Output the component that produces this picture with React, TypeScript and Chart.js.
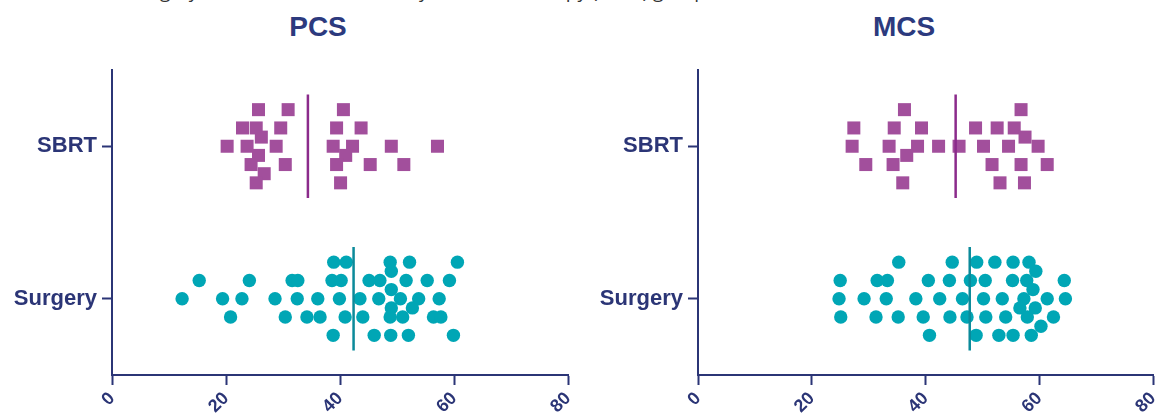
import React, { useEffect, useRef } from "react";
import { Chart, registerables } from "chart.js";

Chart.register(...registerables);

// ---------- data ----------
const categories = ["SBRT", "Surgery"];
const xTickValues = [0, 20, 40, 60, 80];
const panelTitles = ["PCS", "MCS"];
const captionText =
  "Comparison between the surgery and the stereotactic body radiation therapy (SBRT) groups.";

// PCS – SBRT
const pcsSbrtValues = [
  25.7, 30.9, 40.6,
  22.9, 25.3, 29.6, 39.4, 43.7,
  26.2,
  20.2, 23.7, 28.8, 38.8, 42.2, 49.0, 57.1,
  25.7, 41.0,
  24.4, 30.4, 39.4, 45.3, 51.2,
  26.7,
  25.3, 40.1,
];
const pcsSbrtJitter = [
  -0.24, -0.24, -0.24,
  -0.12, -0.12, -0.12, -0.12, -0.12,
  -0.06,
  0, 0, 0, 0, 0, 0, 0,
  0.06, 0.06,
  0.12, 0.12, 0.12, 0.12, 0.12,
  0.18,
  0.24, 0.24,
];

// PCS – Surgery
const pcsSurgeryValues = [
  38.9, 41.1, 48.8, 52.2, 60.6,
  49.0,
  15.3, 24.1, 31.6, 32.6, 38.6, 40.2, 45.1, 47.0, 51.6, 55.3, 59.2,
  49.0,
  12.3, 19.4, 22.8, 28.6, 32.5, 36.1, 39.9, 43.5, 46.8, 50.6, 53.8, 57.4,
  49.0, 52.7,
  20.8, 30.4, 34.2, 36.5, 40.9, 44.0, 48.8, 51.0, 56.4, 57.7,
  38.8, 46.0, 48.9, 52.0, 59.9,
];
const pcsSurgeryJitter = [
  -0.24, -0.24, -0.24, -0.24, -0.24,
  -0.18,
  -0.12, -0.12, -0.12, -0.12, -0.12, -0.12, -0.12, -0.12, -0.12, -0.12, -0.12,
  -0.06,
  0, 0, 0, 0, 0, 0, 0, 0, 0, 0, 0, 0,
  0.06, 0.06,
  0.12, 0.12, 0.12, 0.12, 0.12, 0.12, 0.12, 0.12, 0.12, 0.12,
  0.24, 0.24, 0.24, 0.24, 0.24,
];

// MCS – SBRT
const mcsSbrtValues = [
  36.3, 56.8,
  27.4, 34.5, 39.3, 48.8, 52.6, 55.6,
  57.5,
  27.1, 33.6, 38.6, 42.3, 45.9, 50.2, 54.6, 59.8,
  36.7,
  29.5, 34.3, 51.7, 56.8, 61.4,
  36.0, 53.1, 57.4,
];
const mcsSbrtJitter = [
  -0.24, -0.24,
  -0.12, -0.12, -0.12, -0.12, -0.12, -0.12,
  -0.06,
  0, 0, 0, 0, 0, 0, 0, 0,
  0.06,
  0.12, 0.12, 0.12, 0.12, 0.12,
  0.24, 0.24, 0.24,
];

// MCS – Surgery
const mcsSurgeryValues = [
  35.3, 44.7, 49.0, 52.2, 55.4, 58.2,
  59.4,
  25.0, 31.5, 33.3, 40.5, 44.2, 47.9, 50.5, 55.3, 57.8, 64.4,
  58.9,
  24.8, 29.2, 33.1, 38.3, 42.5, 46.5, 50.2, 53.5, 57.3, 61.4, 64.6,
  56.6, 59.3,
  25.1, 31.3, 35.2, 39.6, 44.3, 47.3, 50.6, 54.1, 57.9, 62.5,
  60.3,
  40.7, 48.9, 52.9, 55.4, 58.6,
];
const mcsSurgeryJitter = [
  -0.24, -0.24, -0.24, -0.24, -0.24, -0.24,
  -0.18,
  -0.12, -0.12, -0.12, -0.12, -0.12, -0.12, -0.12, -0.12, -0.12, -0.12,
  -0.06,
  0, 0, 0, 0, 0, 0, 0, 0, 0, 0, 0,
  0.06, 0.06,
  0.12, 0.12, 0.12, 0.12, 0.12, 0.12, 0.12, 0.12, 0.12, 0.12,
  0.18,
  0.24, 0.24, 0.24, 0.24, 0.24,
];

// ---------- styles ----------
const NAVY = "#2b3576";
const TITLE = "#2c3a7e";
const PURPLE = "#a24f9c";
const PURPLE_LINE = "#8b2b8b";
const TEAL = "#00a6b5";
const TEAL_LINE = "#0b8a9a";
const FONT = '"Liberation Sans", Arial, sans-serif';
const MEAN_HALF = 0.34;

const toPoints = (values: number[], jitter: number[], cat: number) =>
  values.map((v, i) => ({ x: v, y: cat + jitter[i] }));
const mean = (a: number[]) => a.reduce((s, v) => s + v, 0) / a.length;

type Panel = {
  sbrt: number[];
  sbrtJ: number[];
  surg: number[];
  surgJ: number[];
  axisLeft: number;
  padRight: number;
};

function makeChart(canvas: HTMLCanvasElement, p: Panel) {
  const mS = mean(p.sbrt);
  const mG = mean(p.surg);
  return new Chart(canvas, {
    type: "scatter",
    data: {
      datasets: [
        {
          data: [
            { x: mS, y: 0 - MEAN_HALF },
            { x: mS, y: 0 + MEAN_HALF },
          ],
          showLine: true,
          borderColor: PURPLE_LINE,
          borderWidth: 2.5,
          pointRadius: 0,
        },
        {
          data: [
            { x: mG, y: 1 - MEAN_HALF },
            { x: mG, y: 1 + MEAN_HALF },
          ],
          showLine: true,
          borderColor: TEAL_LINE,
          borderWidth: 2.5,
          pointRadius: 0,
        },
        {
          data: toPoints(p.sbrt, p.sbrtJ, 0),
          pointStyle: "rect",
          pointRadius: 9.2,
          backgroundColor: PURPLE,
          borderWidth: 0,
        },
        {
          data: toPoints(p.surg, p.surgJ, 1),
          pointStyle: "circle",
          pointRadius: 6.7,
          backgroundColor: TEAL,
          borderWidth: 0,
        },
      ],
    },
    options: {
      animation: false,
      responsive: false,
      events: [],
      layout: { padding: { left: 0, right: p.padRight, top: 70, bottom: 0 } },
      plugins: { legend: { display: false }, tooltip: { enabled: false } },
      scales: {
        x: {
          type: "linear",
          min: 0,
          max: 80,
          afterBuildTicks: (s: any) => {
            s.ticks = xTickValues.map((v) => ({ value: v }));
          },
          afterFit: (s: any) => {
            s.height = 41;
          },
          ticks: {
            minRotation: 45,
            maxRotation: 45,
            color: NAVY,
            padding: 3,
            font: { family: FONT, size: 18, weight: "bold" },
          },
          grid: {
            drawOnChartArea: false,
            drawTicks: true,
            tickLength: 10,
            tickWidth: 2,
            tickColor: NAVY,
            color: NAVY,
          },
          border: { display: true, color: NAVY, width: 2 },
        },
        y: {
          type: "linear",
          min: -0.5,
          max: 1.5,
          reverse: true,
          afterBuildTicks: (s: any) => {
            s.ticks = categories.map((_, i) => ({ value: i }));
          },
          afterFit: (s: any) => {
            s.width = p.axisLeft;
          },
          ticks: {
            autoSkip: false,
            color: NAVY,
            padding: 5,
            font: { family: FONT, size: 22, weight: "bold" },
            callback: (v: any) => categories[Math.round(Number(v))] ?? "",
          },
          grid: {
            drawOnChartArea: false,
            drawTicks: true,
            tickLength: 10,
            tickWidth: 2,
            tickColor: NAVY,
            color: NAVY,
          },
          border: { display: true, color: NAVY, width: 2 },
        },
      },
    } as any,
  });
}

export default function App() {
  const c1 = useRef<HTMLCanvasElement>(null);
  const c2 = useRef<HTMLCanvasElement>(null);

  useEffect(() => {
    const a = makeChart(c1.current!, {
      sbrt: pcsSbrtValues,
      sbrtJ: pcsSbrtJitter,
      surg: pcsSurgeryValues,
      surgJ: pcsSurgeryJitter,
      axisLeft: 112,
      padRight: 32,
    });
    const b = makeChart(c2.current!, {
      sbrt: mcsSbrtValues,
      sbrtJ: mcsSbrtJitter,
      surg: mcsSurgeryValues,
      surgJ: mcsSurgeryJitter,
      axisLeft: 118,
      padRight: 27,
    });
    return () => {
      a.destroy();
      b.destroy();
    };
  }, []);

  const titleStyle = (center: number): React.CSSProperties => ({
    position: "absolute",
    left: center - 100,
    width: 200,
    top: 11,
    textAlign: "center",
    font: `bold 28px ${FONT}`,
    lineHeight: "32px",
    color: TITLE,
  });

  return (
    <div
      style={{
        position: "absolute",
        left: 0,
        top: 0,
        width: 1157,
        height: 416,
        overflow: "hidden",
        background: "#fff",
      }}
    >
      <div
        style={{
          position: "absolute",
          left: -97,
          top: -20,
          whiteSpace: "nowrap",
          font: '19px "Open Sans", sans-serif',
          lineHeight: "22px",
          color: "#333",
        }}
      >
        {captionText}
      </div>
      <div style={titleStyle(318)}>{panelTitles[0]}</div>
      <div style={titleStyle(904)}>{panelTitles[1]}</div>
      <canvas
        ref={c1}
        width={600}
        height={416}
        style={{ position: "absolute", left: 0, top: 0, width: 600, height: 416 }}
      />
      <canvas
        ref={c2}
        width={600}
        height={416}
        style={{ position: "absolute", left: 580, top: 0, width: 600, height: 416 }}
      />
    </div>
  );
}
